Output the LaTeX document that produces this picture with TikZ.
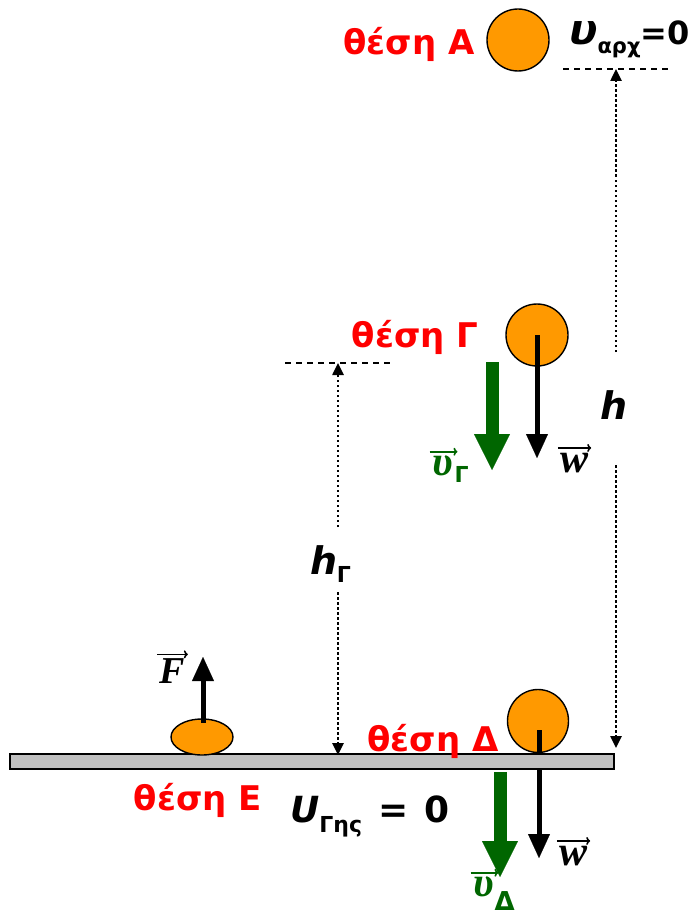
\documentclass[tikz,border=0pt]{standalone}
\usepackage{fontspec}
\setmainfont{DejaVu Sans}
\newfontfamily\serifv{Liberation Serif}
\usetikzlibrary{arrows.meta,shapes.geometric}
\definecolor{ballor}{HTML}{FF9900}
\definecolor{vgreen}{HTML}{006600}
\definecolor{groundgray}{HTML}{C0C0C0}
\tikzset{
  ball/.style={draw=black, line width=1.4pt, fill=ballor, inner sep=0pt},
  poslabel/.style={text=red, font=\fontsize{34}{36}\selectfont\bfseries, inner sep=0pt},
  blabel/.style={text=black, font=\fontsize{32}{34}\selectfont\bfseries, inner sep=0pt},
  vlet/.style={font=\fontsize{42}{42}\selectfont\serifv\bfseries\itshape, inner sep=0pt},
  vecbar/.style={line width=1.6pt, -{To[length=4pt,width=8pt]}},
  dotline/.style={line width=2.5pt, dash pattern=on 2.5pt off 2.5pt},
  dotarrow/.style={dotline, -{Triangle[length=12pt,width=11pt]}},
  dashline/.style={line width=1.4pt, dash pattern=on 6pt off 5pt},
  greenvec/.style={draw=vgreen, line width=13pt, -{Triangle[length=36pt,width=36pt,line width=0.1pt]}},
  blackvec/.style={draw=black, line width=5pt, -{Triangle[length=24pt,width=22pt,line width=0.1pt]}}
}
\begin{document}
\begin{tikzpicture}[x=1pt,y=-1pt]
\useasboundingbox[fill=white] (0,0) rectangle (697,920);

% ---------- position A ----------
\node[ball, circle, minimum size=62pt] (A) at (518,40) {};
\node[poslabel] (tA) at (409,44) {θέση Α};
\node[blabel, anchor=base west] (uA) at (569,45) {{\fontsize{42}{42}\selectfont\itshape υ}\raisebox{-9pt}{\fontsize{21}{21}\selectfont αρχ}=0};
\coordinate (dA1) at (563,69);
\coordinate (dA2) at (670,69);
\draw[dashline] (dA1) -- (dA2);

% h dimension
\node[blabel, font=\fontsize{38}{38}\selectfont\bfseries\itshape] (h) at (614,405) {h};
\coordinate (hTop) at (616,69);
\coordinate (hU) at (616,352);
\coordinate (hL) at (616,465);
\coordinate (hBot) at (616,748);
\draw[dotarrow] (hU) -- (hTop);
\draw[dotarrow] (hL) -- (hBot);

% ---------- position Gamma ----------
\node[ball, circle, minimum size=62pt] (G) at (537,335) {};
\node[poslabel] (tG) at (415,337) {θέση Γ};
\coordinate (dG1) at (285,363);
\coordinate (dG2) at (392,363);
\draw[dashline] (dG1) -- (dG2);

\node[blabel, font=\fontsize{38}{38}\selectfont\bfseries\itshape] (hG) at (324,560) {h};
\node[blabel, font=\fontsize{22}{22}\selectfont\bfseries, anchor=base west] (hGsub) at ([xshift=-1pt,yshift=-8pt]hG.base east) {Γ};
\coordinate (hGTop) at (338,363);
\coordinate (hGU) at (338,527);
\coordinate (hGL) at (338,592);
\coordinate (hGBot) at (338,755);
\draw[dotarrow] (hGU) -- (hGTop);
\draw[dotarrow] (hGL) -- (hGBot);

\coordinate (vG1) at (492,362);
\coordinate (vG2) at (492,470);
\draw[greenvec] (vG1) -- (vG2);
\coordinate (wG2) at (537,458);
\draw[blackvec] (G.center) -- (wG2);

\node[vlet, text=vgreen] (uG) at (443,466) {υ};
\node[font=\fontsize{22}{22}\selectfont\bfseries, text=vgreen, inner sep=0pt, anchor=base west] (uGs) at ([xshift=1pt,yshift=-7pt]uG.base east) {Γ};
\draw[vecbar, draw=vgreen] ([xshift=-3pt,yshift=4pt]uG.north west) -- ([xshift=4pt,yshift=4pt]uG.north east);

\node[vlet] (wGl) at (574,463) {w};
\draw[vecbar] ([xshift=-2pt,yshift=5pt]wGl.north west) -- ([xshift=3pt,yshift=5pt]wGl.north east);

% ---------- position Delta ----------
\node[ball, ellipse, minimum width=61pt, minimum height=63pt] (D) at (538,721) {};
\coordinate (wD1) at (539,730);
\coordinate (wD2) at (539,858);
\draw[blackvec] (wD1) -- (wD2);

% ground
\node[draw=black, line width=1.5pt, fill=groundgray, minimum width=604pt, minimum height=15pt, inner sep=0pt] (ground) at (312,761.5) {};

\node[poslabel] (tD) at (433,741) {θέση Δ};

\coordinate (vD1) at (500,772);
\coordinate (vD2) at (500,877);
\draw[greenvec] (vD1) -- (vD2);

\node[vlet] (wDl) at (573,856) {w};
\draw[vecbar] ([xshift=-2pt,yshift=5pt]wDl.north west) -- ([xshift=3pt,yshift=5pt]wDl.north east);

\node[vlet, text=vgreen] (uD) at (484,887) {υ};
\node[font=\fontsize{26}{26}\selectfont\bfseries, text=vgreen, inner sep=0pt, anchor=base west] (uDs) at ([xshift=0pt,yshift=-14pt]uD.base east) {Δ};
\draw[vecbar, draw=vgreen] ([xshift=-3pt,yshift=4pt]uD.north west) -- ([xshift=4pt,yshift=4pt]uD.north east);

% ---------- position E ----------
\node[ball, ellipse, minimum width=62pt, minimum height=36pt] (E) at (202,737) {};
\coordinate (F1) at (203,723);
\coordinate (F2) at (203,657);
\draw[blackvec] (F1) -- (F2);
\node[vlet, font=\fontsize{38}{38}\selectfont\serifv\bfseries\itshape] (Fl) at (172,671) {F};
\draw[vecbar] ([xshift=-2pt,yshift=4pt]Fl.north west) -- ([xshift=3pt,yshift=4pt]Fl.north east);

\node[poslabel] (tE) at (198,800) {θέση Ε};
\node[blabel, anchor=base west, font=\fontsize{36}{36}\selectfont\bfseries] (U) at (290,822) {{\itshape U}\raisebox{-10pt}{\fontsize{22}{22}\selectfont Γης}\hspace{16pt}=\hspace{16pt}0};
\end{tikzpicture}
\end{document}
